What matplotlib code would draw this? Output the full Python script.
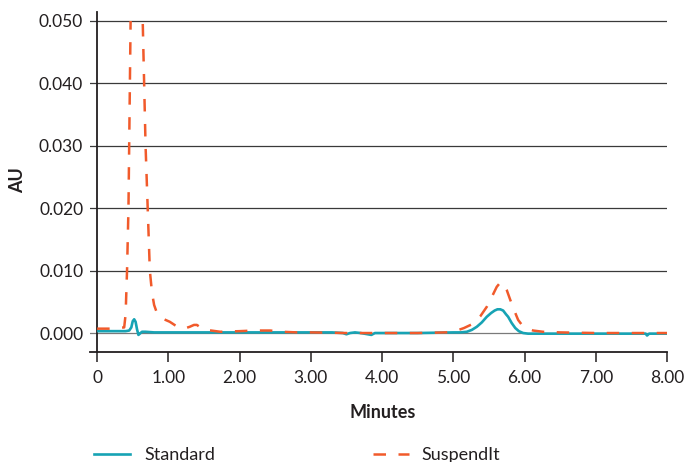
import matplotlib
matplotlib.use("Agg")
import matplotlib.pyplot as plt
from matplotlib.lines import Line2D
from matplotlib.transforms import Bbox, TransformedBbox

plt.rcParams['font.family'] = ['Lato', 'DejaVu Sans']

# ---- data ----
std_t = [0, 0.2, 0.4, 0.45, 0.48, 0.50, 0.52, 0.54, 0.56, 0.58,
         0.60, 0.63, 0.68, 0.8, 1.0, 1.5, 2.0, 2.5, 3.0, 3.3,
         3.45, 3.5, 3.55, 3.62, 3.7, 3.8, 3.85, 3.9, 4.0, 4.5,
         5.0, 5.1, 5.19, 5.26, 5.33, 5.40, 5.47, 5.53, 5.58, 5.62,
         5.66, 5.70, 5.74, 5.77, 5.82, 5.87, 5.92, 5.98, 6.05, 6.2,
         6.5, 7.0, 7.5, 7.7, 7.72, 7.75, 8.0]
std_v = [0.0003, 0.0003, 0.0003, 0.0004, 0.0009, 0.0019, 0.0022, 0.0018, 0.0006, -0.0003,
         -0.0001, 0.0002, 0.0002, 0.0001, 0.0001, 0.0001, 0.0001, 0.0001, 0.0001, 0.0001,
         0.0000, -0.0002, 0.0000, 0.0001, 0.0000, -0.0002, -0.0003, 0.0000, 0.0000, 0.0000,
         0.0001, 0.0001, 0.0002, 0.0005, 0.0010, 0.0017, 0.0026, 0.0032, 0.0036, 0.0038,
         0.0038, 0.0036, 0.0030, 0.0026, 0.0016, 0.0008, 0.0003, 0.0000, -0.0001, -0.0001,
         -0.0001, -0.0001, -0.0001, -0.0001, -0.0004, -0.0001, -0.0001]

sus_t = [0, 0.2, 0.38, 0.40, 0.42, 0.44, 0.46, 0.48, 0.52, 0.57,
         0.62, 0.64, 0.66, 0.68, 0.71, 0.74, 0.77, 0.80, 0.84, 0.90,
         0.96, 1.02, 1.10, 1.16, 1.22, 1.30, 1.36, 1.40, 1.45, 1.50,
         1.60, 1.73, 2.0, 2.2, 2.43, 2.6, 2.8, 3.0, 3.5, 4.0,
         4.5, 4.9, 5.05, 5.15, 5.28, 5.38, 5.47, 5.55, 5.61, 5.66,
         5.70, 5.75, 5.80, 5.86, 5.91, 5.97, 6.03, 6.12, 6.26, 6.5,
         7.0, 7.5, 8.0]
sus_v = [0.0007, 0.0007, 0.0009, 0.0030, 0.0100, 0.0200, 0.0400, 0.0600, 0.0750, 0.0780,
         0.0650, 0.0500, 0.0400, 0.0300, 0.0200, 0.0100, 0.0065, 0.0045, 0.0032, 0.0025,
         0.0021, 0.0018, 0.0012, 0.0008, 0.0007, 0.0010, 0.0013, 0.0013, 0.0009, 0.0005,
         0.0004, 0.0002, 0.0003, 0.0004, 0.0004, 0.0002, 0.0001, 0.0001, 0.0000, 0.0000,
         0.0000, 0.0001, 0.0004, 0.0008, 0.0015, 0.0027, 0.0042, 0.0060, 0.0074, 0.0081,
         0.0080, 0.0069, 0.0053, 0.0035, 0.0021, 0.0012, 0.0008, 0.0004, 0.0002, 0.0001,
         0.0000, 0.0000, 0.0000]

x_ticks = [0, 1, 2, 3, 4, 5, 6, 7, 8]
x_labels = ["0", "1.00", "2.00", "3.00", "4.00", "5.00", "6.00", "7.00", "8.00"]
y_ticks = [0.0, 0.01, 0.02, 0.03, 0.04, 0.05]
y_labels = ["0.000", "0.010", "0.020", "0.030", "0.040", "0.050"]
series_names = ["Standard", "SuspendIt"]

TEAL = "#17a3b4"
ORANGE = "#f15a2b"
TXT = "#231f20"

fig = plt.figure(figsize=(6.84, 4.62), dpi=100)
ax = fig.add_axes([90/684, 1-352/462, 577/684, 340/462])
ax.set_xlim(-0.1, 8.0)
ax.set_ylim(-0.00304, 0.05144)

for yv in y_ticks:
    ax.axhline(yv, color="#3a3a3a" if yv > 0 else "#7a7a7a", lw=0.9, zorder=1)

ax.plot(std_t, std_v, color=TEAL, lw=1.9, zorder=3, solid_capstyle='butt')
l2, = ax.plot(sus_t, sus_v, color=ORANGE, lw=1.8, dashes=(5, 5), zorder=4)
clipbb = TransformedBbox(Bbox([[-0.1, -0.00304], [8.0, 0.0500]]), ax.transData)
l2.set_clip_box(clipbb)

for s in ["top", "right"]:
    ax.spines[s].set_visible(False)
ax.spines["left"].set_position(("data", 0))
ax.spines["left"].set_color("#231f20")
ax.spines["left"].set_linewidth(1.3)
ax.spines["bottom"].set_color("#231f20")
ax.spines["bottom"].set_linewidth(1.3)

ax.set_xticks(x_ticks)
ax.set_xticklabels(x_labels)
ax.set_yticks(y_ticks)
ax.set_yticklabels(y_labels)
ax.tick_params(axis="y", length=0, pad=10, labelsize=12.5, labelcolor=TXT)
ax.tick_params(axis="x", length=7, width=1.1, direction="out", pad=6,
               labelsize=12.5, labelcolor=TXT, color="#231f20")

fig.text(383/684, 1-412/462, "Minutes", ha="center", va="center",
         fontsize=13, fontweight="bold", color=TXT)
fig.text(18/684, 1-180/462, "AU", ha="center", va="center", rotation=90,
         fontsize=13, fontweight="bold", color=TXT)

h1 = Line2D([], [], color=TEAL, lw=1.9)
h2 = Line2D([], [], color=ORANGE, lw=1.8, dashes=(5, 5))
leg1 = fig.legend([h1], [series_names[0]], loc="center left",
                  bbox_to_anchor=(94/684, 1-455/462), frameon=False,
                  borderpad=0, borderaxespad=0, handlelength=2.0,
                  handletextpad=0.8, fontsize=13, labelcolor=TXT)
leg2 = fig.legend([h2], [series_names[1]], loc="center left",
                  bbox_to_anchor=(373/684, 1-455/462), frameon=False,
                  borderpad=0, borderaxespad=0, handlelength=2.0,
                  handletextpad=0.7, fontsize=13, labelcolor=TXT)

fig.savefig("out.png", dpi=100)
